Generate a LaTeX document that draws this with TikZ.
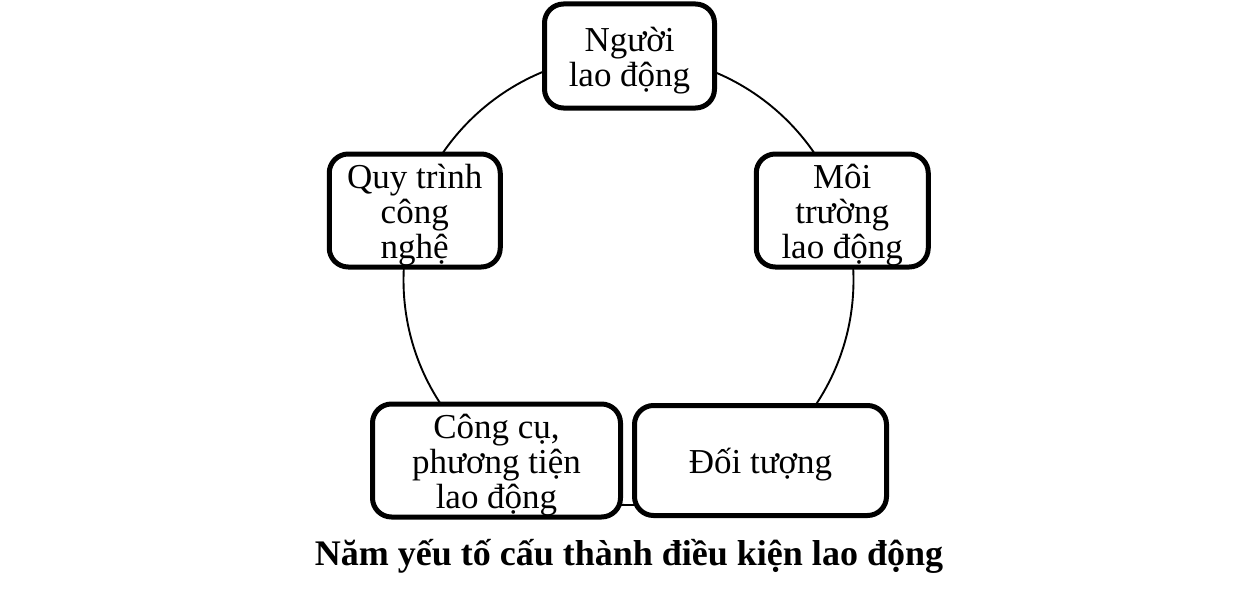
\documentclass[tikz,border=0pt]{standalone}
\usepackage{fontspec}
\setmainfont{Liberation Serif}
\newcommand\topstrut{\rule{0pt}{34pt}}
\newcommand\botstrut{\rule[-9pt]{0pt}{9pt}}
\newcommand\boxfont{\fontsize{35}{35}\selectfont\lineskiplimit=-100pt\relax\lineskip=0pt\relax}
\newcommand\capfont{\fontsize{36}{36}\selectfont\bfseries}
\begin{document}
\begin{tikzpicture}[x=1pt,y=-1pt,
  box/.style={draw=black, line width=5pt, fill=white, rounded corners=19pt,
    inner sep=0pt, align=center, font=\boxfont},
  ring/.style={draw=black, line width=1.9pt, circle, minimum size=450pt, inner sep=0pt},
  caption/.style={font=\capfont, anchor=base, inner sep=0pt}]
\useasboundingbox[fill=white] (0,0) rectangle (1260,602);
\node[ring] (ring) at (628.5,280) {};
\node[box, minimum width=170pt, minimum height=104pt] (nguoi) at (629.5,56)
  {\topstrut Người\\lao động\botstrut};
\node[box, minimum width=172pt, minimum height=110pt] (moitruong) at (842.25,210.5)
  {\topstrut Môi\\trường\\lao động\botstrut};
\node[box, minimum width=252pt, minimum height=110pt] (doituong) at (760.5,460.5)
  {\topstrut Đối tượng\botstrut};
\node[box, minimum width=248pt, minimum height=110pt] (congcu) at (496.5,460.5)
  {\topstrut Công cụ,\\phương tiện\\lao động\botstrut};
\node[box, minimum width=171pt, minimum height=110pt] (quytrinh) at (414.75,210.5)
  {\topstrut Quy trình\\công\\nghệ\botstrut};
\node[caption] (title) at (629,565) {Năm yếu tố cấu thành điều kiện lao động};
\end{tikzpicture}
\end{document}
